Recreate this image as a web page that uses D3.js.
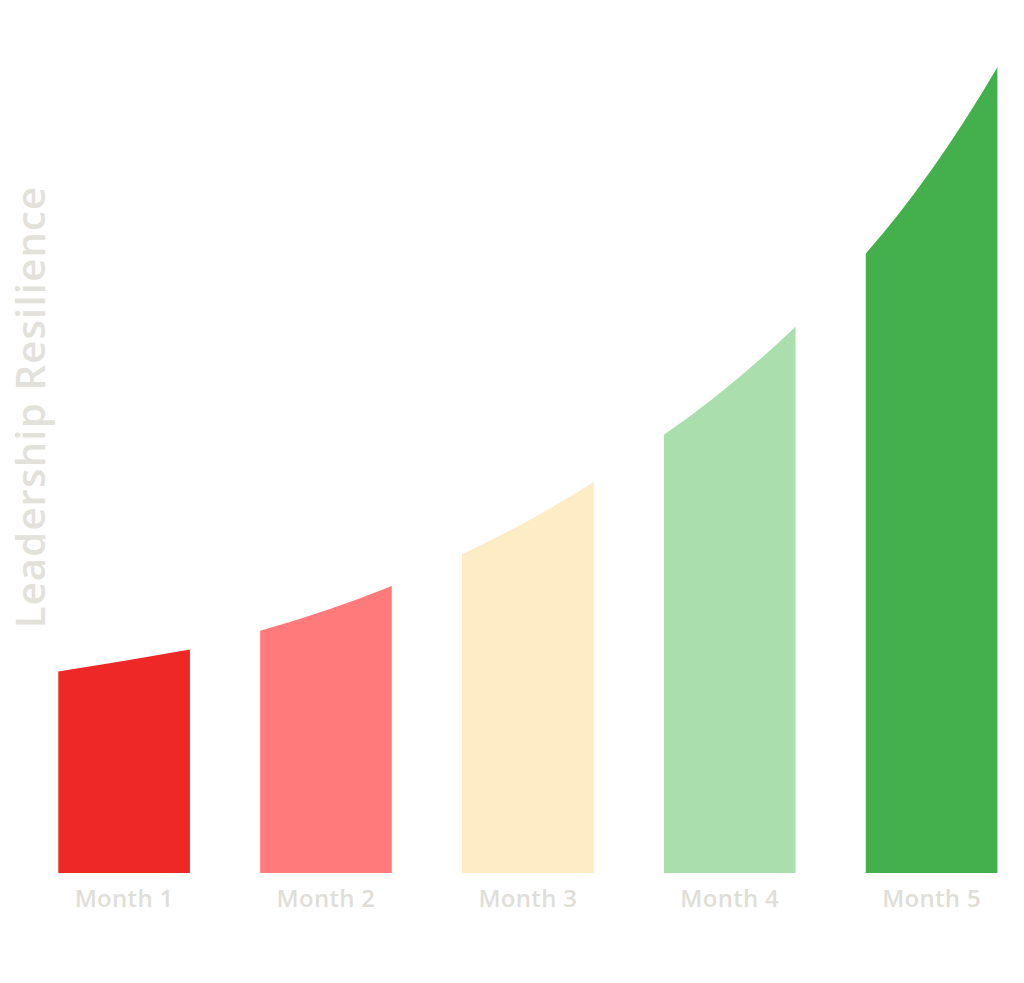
<!DOCTYPE html>
<html>
<head>
<meta charset="utf-8">
<script src="https://cdn.jsdelivr.net/npm/d3@7"></script>
<style>
  html, body { margin: 0; padding: 0; background: #fff; }
  svg { display: block; }
</style>
</head>
<body>
<svg id="chart" width="1024" height="983"></svg>
<script>
  const months = ['Month 1', 'Month 2', 'Month 3', 'Month 4', 'Month 5'];
  // resilience level at the left edge, middle and right edge of each bar
  const startValues = [24.8, 29.8, 39.2, 53.9, 76.2];
  const midValues = [26.1, 32.3, 43.3, 60.0, 86.5];
  const endValues = [27.5, 35.3, 48.1, 67.2, 99.1];
  const colorAry = ['#ee2826', '#ff7b7b', '#fdecc4', '#aadead', '#43b04c'];
  const yTitle = 'Leadership Resilience';

  const svg = d3.select('#chart');
  const baseY = 873;

  const xScale = d3.scaleBand()
    .domain(months)
    .range([58.3, 997.4])
    .paddingInner(0.348)
    .paddingOuter(0);

  const yScale = d3.scaleLinear()
    .domain([0, 100])
    .range([baseY, 60]);

  const dataset = months.map((m, i) => ({
    name: m,
    start: startValues[i],
    mid: midValues[i],
    end: endValues[i],
    color: colorAry[i]
  }));

  // bar with a smooth top passing through start, mid and end values
  function barPath(d) {
    let x0 = xScale(d.name);
    let w = xScale.bandwidth();
    let y0 = yScale(d.start), ym = yScale(d.mid), y1 = yScale(d.end);
    let cy = 2 * ym - (y0 + y1) / 2;
    let p = d3.path();
    p.moveTo(x0, baseY);
    p.lineTo(x0, y0);
    p.quadraticCurveTo(x0 + w / 2, cy, x0 + w, y1);
    p.lineTo(x0 + w, baseY);
    p.closePath();
    return p.toString();
  }

  svg.append('g')
    .selectAll('path')
    .data(dataset)
    .enter()
    .append('path')
    .attr('d', barPath)
    .attr('fill', d => d.color);

  // x labels
  svg.append('g')
    .selectAll('text')
    .data(dataset)
    .enter()
    .append('text')
    .attr('x', d => xScale(d.name) + xScale.bandwidth() / 2)
    .attr('y', 907)
    .attr('text-anchor', 'middle')
    .attr('font-family', '"Open Sans", sans-serif')
    .attr('font-weight', 600)
    .attr('font-size', '24px')
    .attr('letter-spacing', '0.3px')
    .attr('fill', '#e0ded8')
    .text(d => d.name);

  // y title
  svg.append('text')
    .attr('transform', 'translate(45,407) rotate(-90)')
    .attr('text-anchor', 'middle')
    .attr('font-family', '"Open Sans", sans-serif')
    .attr('font-weight', 600)
    .attr('font-size', '40px')
    .attr('letter-spacing', '1.2px')
    .attr('fill', '#e3e1db')
    .text(yTitle);
</script>
</body>
</html>
